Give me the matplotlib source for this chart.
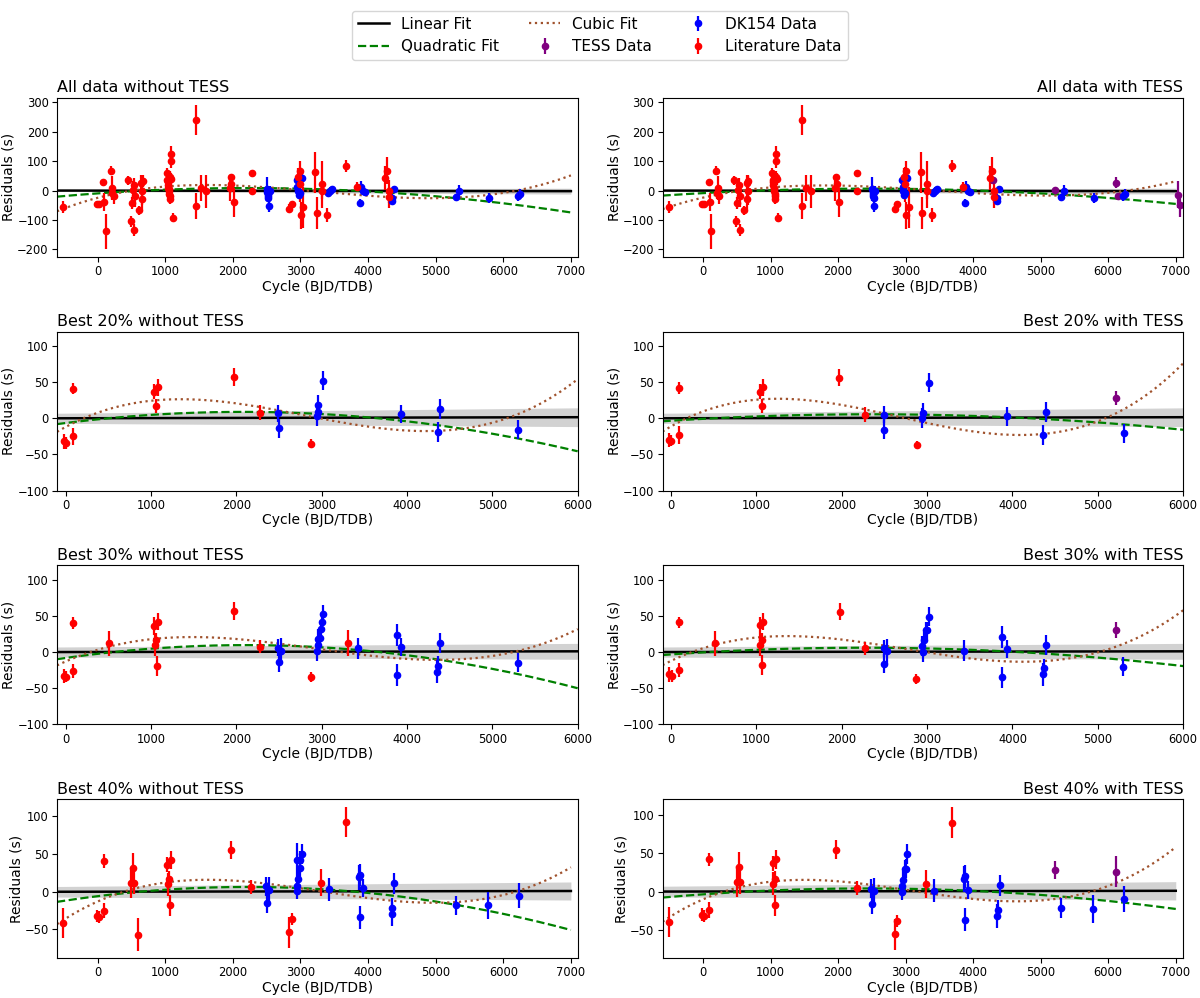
import numpy as np
import matplotlib
matplotlib.use("Agg")
from matplotlib import pyplot as plt

# ---- Row 1: all data ----
r1_lit_x = [-510, -15, 20, 85, 96, 125, 193, 210, 220, 238, 453, 493, 510, 520, 533, 540, 550, 607, 646, 652,
            663, 669, 1020, 1030, 1035, 1040, 1045, 1050, 1055, 1060, 1065, 1070, 1075, 1080, 1085, 1090, 1117,
            1462, 1462, 1525, 1599, 1956, 1973, 1980, 2012, 2279, 2279, 2835, 2874, 2970, 2987, 3000, 3004, 3044,
            3220, 3243, 3316, 3316, 3395, 3679, 3843, 4252, 4274, 4308, 4308]
r1_lit_y = [-56, -44, -45, 29, -38, -139, 67, -9, 8, -20, 35, -105, -43, 2, 19, -133, -20, -67, 27, -29,
            0, 33, 60, 36, 30, 20, 10, 5, 0, -10, -20, -30, 45, 100, 125, 40, -92,
            239, -53, 8, -3, 9, 47, 21, -40, 60, -3, -62, -45, 47, 21, 67, -84, -57,
            62, -77, 22, -3, -83, 84, 13, 42, 68, -3, -23]
r1_lit_e = [20, 8, 8, 5, 30, 60, 15, 20, 40, 25, 15, 20, 20, 30, 25, 20, 35, 15, 25, 35,
            50, 20, 18, 15, 20, 25, 20, 15, 25, 20, 15, 15, 20, 22, 25, 20, 15,
            50, 45, 45, 55, 45, 10, 20, 50, 10, 5, 15, 10, 30, 60, 35, 45, 70,
            70, 55, 80, 25, 25, 20, 15, 40, 45, 40, 35]
r1_dk_x = [2505, 2510, 2515, 2520, 2525, 2530, 2545, 2948, 2955, 2965, 2975, 2987, 3016, 3412, 3440, 3469,
           3877, 3895, 3923, 3951, 4348, 4360, 4388, 5295, 5340, 5782, 6219, 6247]
r1_dk_y = [5, -5, -10, -20, -25, -52, 0, 35, 13, 0, -15, -7, 44, -7, 0, 5,
           -42, 13, 0, -5, -37, -25, 4, -23, 0, -25, -20, -10]
r1_dk_e = [40, 15, 15, 15, 15, 20, 15, 15, 15, 15, 15, 15, 15, 12, 12, 12,
           12, 18, 12, 12, 12, 12, 12, 12, 18, 18, 15, 15]
r1_tess_x = [4290, 5210, 6110, 6150, 7040, 7070]
r1_tess_y = [36, 2, 27, -20, -14, -50]
r1_tess_e = [10, 8, 18, 12, 45, 40]

# ---- Row 2: best 20% ----
r2L_lit_x = [-22, 5, 90, 90, 1040, 1062, 1078, 1973, 2274, 2876]
r2L_lit_y = [-32, -34, 41, -25, 37, 17, 43, 57, 8, -35]
r2_lit_e = [10, 8, 8, 12, 10, 10, 12, 12, 10, 6]
r2L_dk_x = [2490, 2499, 2944, 2953, 2962, 3020, 3933, 4360, 4387, 5303]
r2L_dk_y = [7, -14, 3, 9, 18, 52, 6, -19, 13, -16]
r2L_dk_e = [12, 13, 14, 10, 14, 13, 13, 14, 14, 13]
r2R_lit_y = [-30, -31, 42, -23, 37, 17, 43, 56, 5, -37]
r2R_dk_x = [2490, 2499, 2944, 2953, 3020, 3933, 4360, 4387, 5303]
r2R_dk_y = [5, -16, 0, 7, 49, 3, -23, 9, -21]
r2R_dk_e = [12, 13, 14, 14, 13, 13, 14, 14, 13]
r2_tess_x = [5210]
r2_tess_y = [28]
r2_tess_e = [10]

# ---- Row 3: best 30% ----
r3L_lit_x = [-20, 5, 90, 90, 505, 1040, 1045, 1062, 1070, 1080, 1975, 2275, 2875, 3305]
r3L_lit_y = [-33, -34, 40, -26, 12, 36, 10, 16, -19, 42, 57, 7, -35, 13]
r3L_lit_e = [10, 8, 8, 10, 17, 12, 15, 10, 14, 12, 12, 9, 7, 18]
r3L_dk_x = [2490, 2500, 2530, 2945, 2955, 2960, 2985, 2995, 3005, 3020, 3425, 3880, 3880, 3930, 4355, 4365, 4390, 5300]
r3L_dk_y = [6, -14, 2, 2, 10, 18, 20, 32, 42, 52, 5, 24, -32, 7, -27, -19, 13, -15]
r3L_dk_e = [12, 13, 17, 14, 10, 14, 12, 12, 12, 13, 14, 15, 15, 12, 16, 13, 14, 13]
r3R_lit_x = [-20, 10, 90, 90, 510, 1040, 1045, 1065, 1070, 1080, 1975, 2275, 2870]
r3R_lit_y = [-31, -33, 41, -25, 12, 37, 10, 17, -18, 42, 56, 5, -37]
r3R_lit_e = [10, 8, 8, 10, 17, 12, 15, 10, 14, 12, 12, 9, 7]
r3R_dk_x = [2490, 2500, 2530, 2945, 2950, 2960, 2985, 3000, 3020, 3430, 3880, 3880, 3930, 4355, 4365, 4390, 5300]
r3R_dk_y = [5, -16, 1, 8, 0, 16, 30, 30, 49, 2, 21, -35, 4, -31, -22, 10, -20]
r3R_dk_e = [12, 13, 17, 14, 14, 12, 12, 12, 13, 14, 15, 15, 12, 16, 13, 14, 13]
r3_tess_x = [5210]
r3_tess_y = [30]
r3_tess_e = [11]

# ---- Row 4: best 40% ----
r4L_lit_x = [-510, -15, 15, 90, 90, 500, 520, 535, 600, 1030, 1040, 1060, 1065, 1085, 1975, 2275, 2835, 2870, 3300, 3680]
r4L_lit_y = [-42, -32, -33, 41, -25, 12, 31, 12, -57, 36, 10, 17, -18, 42, 56, 6, -54, -36, 12, 92]
r4L_lit_e = [20, 8, 8, 9, 10, 20, 20, 15, 22, 10, 15, 10, 14, 12, 12, 9, 20, 8, 18, 20]
r4L_dk_x = [2490, 2500, 2530, 2945, 2950, 2955, 2960, 2990, 3000, 3020, 3420, 3870, 3880, 3875, 3930,
            4350, 4360, 4390, 5295, 5780, 6230]
r4L_dk_y = [7, -15, 2, 42, 1, 8, 17, 31, 42, 50, 3, 19, 22, -34, 5, -29, -21, 11, -18, -18, -5]
r4L_dk_e = [12, 13, 17, 23, 10, 10, 12, 12, 12, 13, 15, 17, 15, 15, 12, 16, 13, 14, 13, 18, 17]
r4R_lit_x = [-510, -15, 10, 90, 90, 505, 525, 540, 1030, 1035, 1060, 1065, 1085, 1975, 2275, 2835, 2870, 3300, 3680]
r4R_lit_y = [-40, -30, -32, 42, -24, 13, 32, 12, 37, 10, 17, -18, 42, 55, 5, -56, -38, 10, 90]
r4R_lit_e = [20, 8, 8, 9, 10, 20, 20, 15, 10, 15, 10, 14, 12, 12, 9, 20, 8, 18, 20]
r4R_dk_x = [2490, 2500, 2530, 2945, 2950, 2960, 2985, 3000, 3020, 3420, 3870, 3880, 3880, 3930,
            4350, 4365, 4390, 5295, 5780, 6230]
r4R_dk_y = [4, -16, 1, 7, -1, 15, 29, 30, 49, 1, 17, 20, -37, 2, -32, -24, 8, -22, -23, -10]
r4R_dk_e = [12, 13, 17, 10, 10, 12, 12, 12, 13, 15, 17, 15, 15, 12, 16, 13, 14, 13, 18, 17]
r4_tess_x = [5210, 6110]
r4_tess_y = [28, 26]
r4_tess_e = [12, 20]

# ---- fit curves at a few cycles ----
wide_x = [-600, 0, 1000, 2000, 3000, 4000, 5000, 6000, 7000]
narrow_x = [-100, 0, 1000, 2000, 2500, 3000, 4000, 5000, 6000]
narrow_x2 = [-100, 0, 1000, 2000, 3000, 4000, 5000, 6000]

q1L_y = [-22, -8, 3, 8, 7, -2, -20, -45, -73]
c1L_x = [-600, 0, 500, 1000, 1500, 2000, 3000, 4000, 5000, 6000, 6500, 7000]
c1L_y = [-70, -25, 0, 13, 18, 17, 5, -20, -25, -8, 15, 52]
q1R_y = [-18, -8, 2, 6, 6, 0, -10, -25, -45]
c1R_y = [-62, -25, 10, 17, 8, -8, -18, -8, 32]

q2L_y = [-8, -7, 5, 9, 9, 6, -5, -22, -45]
c2L_x = [-100, 0, 500, 1000, 1500, 2000, 3000, 4000, 4500, 5000, 5500, 6000]
c2L_y = [-17, -12, 10, 23, 26, 23, 0, -17, -18, -5, 15, 55]
q2R_y = [-4, -3, 2, 5, 5, 2, -6, -16]
c2R_x = [-100, 0, 500, 1000, 1300, 2000, 3000, 4000, 4300, 5000, 5500, 6000]
c2R_y = [-17, -10, 12, 24, 26, 20, -3, -24, -23, -5, 25, 78]

q3L_y = [-10, -8, 4, 9, 10, 8, -5, -25, -49]
c3L_x = [-100, 0, 500, 1000, 1500, 2000, 3000, 4000, 4500, 5000, 5500, 6000]
c3L_y = [-18, -12, 5, 17, 21, 19, 5, -10, -12, -5, 8, 32]
q3R_y = [-4, -3, 3, 5, 5, 1, -7, -20]
c3R_x = [-100, 0, 500, 1000, 1300, 2000, 3000, 3500, 4000, 4500, 5000, 5500, 6000]
c3R_y = [-18, -10, 8, 18, 21, 18, 3, -8, -14, -12, -2, 20, 60]

q4L_y = [-15, -6, 4, 8, 7, -3, -16, -31, -48]
c4_x = [-600, 0, 500, 1000, 1500, 2000, 3000, 4000, 4500, 5000, 6000, 6500, 7000]
c4L_y = [-42, -15, 3, 13, 16, 15, 6, -10, -14, -14, -3, 10, 32]
q4R_y = [-8, -4, 2, 4, 4, 1, -5, -13, -22]
c4R_y = [-38, -12, 5, 13, 15, 13, 3, -9, -12, -10, 3, 28, 60]

# linear fit: value at both ends of the range, and half width of the grey band there
lin1 = ([0, -2], [3, 10])
lin2 = ([0, 1.5], [7, 13])
lin3 = ([0, 1], [7, 11])
lin4 = ([0, 1], [7, 12])


def panel(ax, title, loc, xr, lin, qx, qy, cx, cy, lit, dk, tess=None, xlim=None, ylim=None, yticks=None):
    grid = np.linspace(xr[0], xr[1], 300)
    lin_y = np.interp(grid, xr, lin[0])
    hw = np.interp(grid, xr, lin[1])
    ax.fill_between(grid, lin_y - hw, lin_y + hw, color="gray", alpha=0.35, lw=0)
    h_lin, = ax.plot(grid, lin_y, color="black", lw=1.8, label="Linear Fit")
    h_quad, = ax.plot(grid, np.polyval(np.polyfit(qx, qy, 2), grid), "--", color="green", lw=1.6,
                      label="Quadratic Fit")
    h_cub, = ax.plot(grid, np.polyval(np.polyfit(cx, cy, 3), grid), ":", color="sienna", lw=1.6,
                     label="Cubic Fit")
    style = dict(fmt="o", ms=4.5, elinewidth=1.6, capsize=0)
    h_tess = None
    if tess is not None:
        h_tess = ax.errorbar(tess[0], tess[1], yerr=tess[2], color="purple", label="TESS Data", **style)
    h_dk = ax.errorbar(dk[0], dk[1], yerr=dk[2], color="blue", label="DK154 Data", **style)
    h_lit = ax.errorbar(lit[0], lit[1], yerr=lit[2], color="red", label="Literature Data", **style)
    ax.set_title(title, loc=loc, fontsize=11.5, pad=4)
    ax.set_xlabel("Cycle (BJD/TDB)", fontsize=10, labelpad=1)
    ax.set_ylabel("Residuals (s)", fontsize=10, labelpad=1)
    ax.set_xlim(xlim)
    ax.set_ylim(ylim)
    if yticks is not None:
        ax.set_yticks(yticks)
    ax.tick_params(labelsize=8.3, pad=2.5)
    return [h_lin, h_quad, h_cub, h_tess, h_dk, h_lit]


fig, axes = plt.subplots(4, 2, figsize=(12, 9.98), dpi=100)
plt.subplots_adjust(left=0.0475, right=0.986, top=0.902, bottom=0.04, wspace=0.163, hspace=0.47)

wide = (-600, 7000)
narrow = (-100, 6000)

panel(axes[0, 0], "All data without TESS", "left", wide, lin1, wide_x, q1L_y, c1L_x, c1L_y,
      (r1_lit_x, r1_lit_y, r1_lit_e), (r1_dk_x, r1_dk_y, r1_dk_e),
      xlim=(-600, 7100), ylim=(-225, 315))
handles = panel(axes[0, 1], "All data with TESS", "right", wide, lin1, wide_x, q1R_y, wide_x, c1R_y,
                (r1_lit_x, r1_lit_y, r1_lit_e), (r1_dk_x, r1_dk_y, r1_dk_e), (r1_tess_x, r1_tess_y, r1_tess_e),
                xlim=(-600, 7110), ylim=(-225, 315))

panel(axes[1, 0], "Best 20% without TESS", "left", narrow, lin2, narrow_x, q2L_y, c2L_x, c2L_y,
      (r2L_lit_x, r2L_lit_y, r2_lit_e), (r2L_dk_x, r2L_dk_y, r2L_dk_e),
      xlim=(-100, 6000), ylim=(-100, 120))
panel(axes[1, 1], "Best 20% with TESS", "right", narrow, lin2, narrow_x2, q2R_y, c2R_x, c2R_y,
      (r2L_lit_x, r2R_lit_y, r2_lit_e), (r2R_dk_x, r2R_dk_y, r2R_dk_e), (r2_tess_x, r2_tess_y, r2_tess_e),
      xlim=(-100, 6000), ylim=(-100, 120))

panel(axes[2, 0], "Best 30% without TESS", "left", narrow, lin3, narrow_x, q3L_y, c3L_x, c3L_y,
      (r3L_lit_x, r3L_lit_y, r3L_lit_e), (r3L_dk_x, r3L_dk_y, r3L_dk_e),
      xlim=(-100, 6000), ylim=(-100, 120))
panel(axes[2, 1], "Best 30% with TESS", "right", narrow, lin3, narrow_x2, q3R_y, c3R_x, c3R_y,
      (r3R_lit_x, r3R_lit_y, r3R_lit_e), (r3R_dk_x, r3R_dk_y, r3R_dk_e), (r3_tess_x, r3_tess_y, r3_tess_e),
      xlim=(-100, 6000), ylim=(-100, 120))

panel(axes[3, 0], "Best 40% without TESS", "left", wide, lin4, wide_x, q4L_y, c4_x, c4L_y,
      (r4L_lit_x, r4L_lit_y, r4L_lit_e), (r4L_dk_x, r4L_dk_y, r4L_dk_e),
      xlim=(-600, 7100), ylim=(-88, 123), yticks=[-50, 0, 50, 100])
panel(axes[3, 1], "Best 40% with TESS", "right", wide, lin4, wide_x, q4R_y, c4_x, c4R_y,
      (r4R_lit_x, r4R_lit_y, r4R_lit_e), (r4R_dk_x, r4R_dk_y, r4R_dk_e), (r4_tess_x, r4_tess_y, r4_tess_e),
      xlim=(-600, 7110), ylim=(-87, 121), yticks=[-50, 0, 50, 100])

fig.legend(handles=handles, loc="upper center", bbox_to_anchor=(0.5, 0.997), ncol=3, fontsize=11)

plt.savefig("out.png")
